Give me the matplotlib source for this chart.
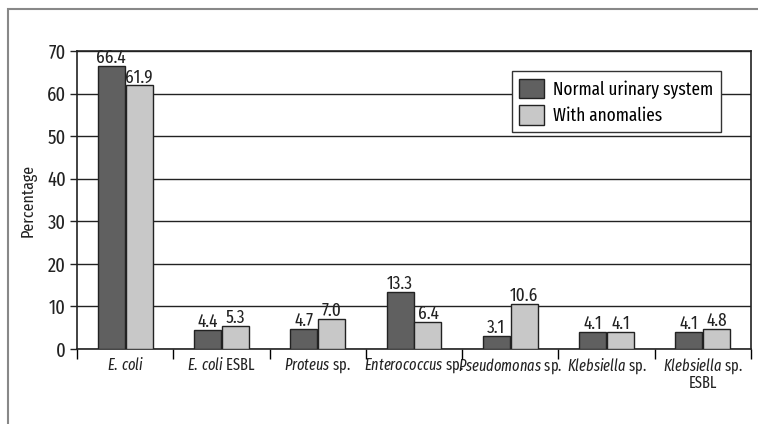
import numpy as np
import matplotlib
matplotlib.use('Agg')
import matplotlib.pyplot as plt
from matplotlib.patches import Rectangle

fam = 'Fira Sans Extra Condensed'
plt.rcParams['font.family'] = [fam, 'Fira Sans Condensed', 'DejaVu Sans']
plt.rcParams['font.size'] = 12
plt.rcParams['mathtext.fontset'] = 'custom'
plt.rcParams['mathtext.rm'] = fam
plt.rcParams['mathtext.it'] = fam + ':italic'

# data
categories = [r'$\mathit{E.\,coli}$', r'$\mathit{E.\,coli}$ ESBL', r'$\mathit{Proteus}$ sp.',
              r'$\mathit{Enterococcus}$ sp.', r'$\mathit{Pseudomonas}$ sp.',
              r'$\mathit{Klebsiella}$ sp.', r'$\mathit{Klebsiella}$ sp.' + '\nESBL']
normal = [66.4, 4.4, 4.7, 13.3, 3.1, 4.1, 4.1]
anomalies = [61.9, 5.3, 7.0, 6.4, 10.6, 4.1, 4.8]
series_names = ['Normal urinary system', 'With anomalies']
colors = ['#606060', '#c8c8c8']

fig = plt.figure(figsize=(7.58, 4.24), dpi=100)
ax = fig.add_axes([77/758, 1 - 349/424, 674/758, 298/424])

# outer frame
fig.patches.append(Rectangle((8/758, -0.1), 1.1, 1 - 9/424 + 0.1, transform=fig.transFigure,
                             fill=False, edgecolor='#888888', linewidth=1.5))

x = np.arange(len(categories))
w = 0.28
b1 = ax.bar(x - w/2 - 0.005, normal, w, color=colors[0], edgecolor='#222222', linewidth=1,
            label=series_names[0], zorder=3)
b2 = ax.bar(x + w/2 + 0.005, anomalies, w, color=colors[1], edgecolor='#222222', linewidth=1,
            label=series_names[1], zorder=3)

for bars, vals in [(b1, normal), (b2, anomalies)]:
    for rect, v in zip(bars, vals):
        ax.annotate(f'{v:.1f}', (rect.get_x() + rect.get_width()/2, v), xytext=(0, -0.5),
                    textcoords='offset points', ha='center', va='bottom', fontsize=13.5,
                    color='#222222', zorder=4)

ax.set_xlim(-0.5, len(categories) - 0.5)
ax.set_ylim(0, 70)
ax.set_yticks(range(0, 71, 10))
ax.yaxis.grid(True, color='#222222', linewidth=1, zorder=0)
ax.set_axisbelow(True)

ax.set_xticks(x)
ax.set_xticklabels(categories, fontsize=11.3, color='#222222', linespacing=1.0)
ax.tick_params(axis='x', length=0, pad=5)
ax.set_xticks(np.arange(-0.5, len(categories), 1), minor=True)
ax.tick_params(axis='x', which='minor', length=7, width=1, direction='out')
ax.tick_params(axis='y', length=5, width=1, labelsize=14.5, colors='#222222', pad=3)

for s in ['left', 'bottom', 'right', 'top']:
    ax.spines[s].set_linewidth(1.2)
    ax.spines[s].set_color('#222222')

ax.set_ylabel('Percentage', fontsize=12.5, color='#222222', labelpad=7)

leg = ax.legend(loc='upper right', bbox_to_anchor=(0.969, 0.963), fontsize=13.5,
                fancybox=False, framealpha=1, edgecolor='#333333',
                handlelength=1.3, handleheight=1.2, handletextpad=0.5, borderpad=0.4,
                labelspacing=0.35)
leg.get_frame().set_linewidth(1)

fig.savefig('out.png', dpi=100)
